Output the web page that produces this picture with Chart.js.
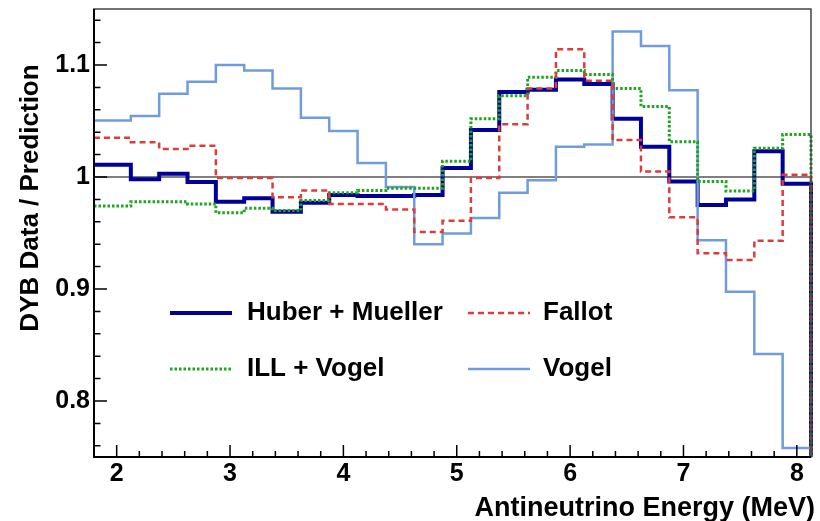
<!DOCTYPE html>
<html>
<head>
<meta charset="utf-8">
<title>DYB Data / Prediction</title>
<script src="https://cdn.jsdelivr.net/npm/chart.js@4.4.1/dist/chart.umd.min.js"></script>
<style>
  html, body { margin: 0; padding: 0; background: #fff; }
  #ratioChart { display: block; }
</style>
</head>
<body>
<canvas id="ratioChart" width="820" height="521"></canvas>
<script>
// Bin edges in antineutrino energy (MeV)
const binEdges = [1.8, 2.125, 2.375, 2.625, 2.875, 3.125, 3.375, 3.625, 3.875, 4.125,
  4.375, 4.625, 4.875, 5.125, 5.375, 5.625, 5.875, 6.125, 6.375, 6.625,
  6.875, 7.125, 7.375, 7.625, 7.875, 8.125];

// Data / prediction ratio per bin for each flux model
const huberMueller = [1.011, 0.998, 1.003, 0.9955, 0.978, 0.981, 0.969, 0.977, 0.984, 0.983,
  0.983, 0.984, 1.008, 1.042, 1.076, 1.078, 1.087, 1.083, 1.052, 1.027,
  0.996, 0.975, 0.980, 1.023, 0.994];
const fallot = [1.035, 1.031, 1.025, 1.028, 0.999, 0.999, 0.982, 0.988, 0.976, 0.976,
  0.971, 0.951, 0.961, 0.999, 1.047, 1.079, 1.114, 1.086, 1.033, 1.005,
  0.964, 0.932, 0.926, 0.943, 1.002];
const illVogel = [0.974, 0.978, 0.978, 0.976, 0.968, 0.972, 0.970, 0.979, 0.986, 0.988,
  0.990, 0.990, 1.014, 1.052, 1.0725, 1.089, 1.095, 1.0915, 1.079, 1.063,
  1.0315, 0.996, 0.9875, 1.0256, 1.038];
const vogel = [1.0505, 1.0544, 1.0743, 1.085, 1.100, 1.095, 1.079, 1.053, 1.041, 1.0125,
  0.991, 0.940, 0.9495, 0.9635, 0.986, 0.997, 1.027, 1.029, 1.130, 1.117,
  1.0775, 0.9436, 0.8975, 0.842, 0.758];

const seriesNames = ["Huber + Mueller", "Fallot", "ILL + Vogel", "Vogel"];
const xTickValues = [2, 3, 4, 5, 6, 7, 8];
const yTickValues = [0.8, 0.9, 1, 1.1];

const FONT = '"Liberation Sans", Arial, Helvetica, sans-serif';

// bin contents -> points for a stepped line, closing down to zero at the last edge
function histPoints(values) {
  const pts = values.map((v, i) => ({ x: binEdges[i], y: v }));
  const last = binEdges[binEdges.length - 1];
  pts.push({ x: last, y: values[values.length - 1] });
  pts.push({ x: last, y: 0 });
  return pts;
}

const histStyle = {
  stepped: "before",
  pointRadius: 0,
  fill: false,
  tension: 0,
  clip: { left: 0, top: 0, right: 3, bottom: 0 },
};

const framePlugin = {
  id: "rootFrame",
  beforeDatasetsDraw(chart) {
    const { ctx, chartArea: a, scales } = chart;
    const y1 = scales.y.getPixelForValue(1);
    ctx.save();
    ctx.strokeStyle = "#555";
    ctx.lineWidth = 1.5;
    ctx.beginPath();
    ctx.moveTo(a.left, y1);
    ctx.lineTo(a.right, y1);
    ctx.stroke();
    ctx.restore();
  },
  afterDraw(chart) {
    const { ctx, chartArea: a, scales } = chart;
    const { x, y } = scales;
    ctx.save();

    // frame
    ctx.strokeStyle = "#444";
    ctx.lineWidth = 1.5;
    ctx.strokeRect(a.left, a.top, a.right - a.left, a.bottom - a.top);
    ctx.strokeStyle = "#000";
    ctx.lineWidth = 2;
    ctx.beginPath();
    ctx.moveTo(a.left, a.top);
    ctx.lineTo(a.left, a.bottom);
    ctx.lineTo(a.right, a.bottom);
    ctx.stroke();

    // ticks pointing into the frame
    ctx.lineWidth = 1.5;
    ctx.beginPath();
    for (let k = 38; k <= 57; k++) {
      const v = k / 50;
      const py = y.getPixelForValue(v);
      const major = yTickValues.some((t) => Math.abs(t - v) < 1e-6);
      ctx.moveTo(a.left, py);
      ctx.lineTo(a.left + (major ? 13 : 6.5), py);
    }
    for (let k = 9; k <= 40; k++) {
      const v = k / 5;
      const px = x.getPixelForValue(v);
      const major = xTickValues.some((t) => Math.abs(t - v) < 1e-6);
      ctx.moveTo(px, a.bottom);
      ctx.lineTo(px, a.bottom - (major ? 12 : 6));
    }
    ctx.stroke();

    // axis titles
    ctx.fillStyle = "#000";
    ctx.textBaseline = "middle";
    ctx.textAlign = "right";
    ctx.font = `bold 27px ${FONT}`;
    ctx.fillText("Antineutrino Energy (MeV)", 815, 509);
    ctx.font = `bold 26px ${FONT}`;
    ctx.save();
    ctx.translate(31, 198);
    ctx.rotate(-Math.PI / 2);
    ctx.textAlign = "center";
    ctx.fillText("DYB Data / Prediction", 0, 0);
    ctx.restore();

    // legend, two columns
    const rows = [313, 369];
    const lineX = [170, 468];
    const textX = [247, 543];
    ctx.font = `bold 26px ${FONT}`;
    ctx.textAlign = "left";
    chart.data.datasets.forEach((ds, i) => {
      const col = i % 2;
      const row = Math.floor(i / 2);
      const ly = rows[row];
      ctx.save();
      ctx.strokeStyle = ds.borderColor;
      ctx.lineWidth = ds.borderWidth;
      ctx.setLineDash(ds.borderDash || []);
      ctx.beginPath();
      ctx.moveTo(lineX[col], ly);
      ctx.lineTo(lineX[col] + 62, ly);
      ctx.stroke();
      ctx.restore();
      ctx.fillText(ds.label, textX[col], ly);
    });

    ctx.restore();
  },
};

const ctx = document.getElementById("ratioChart").getContext("2d");

new Chart(ctx, {
  type: "line",
  data: {
    datasets: [
      {
        ...histStyle,
        label: seriesNames[0],
        data: histPoints(huberMueller),
        borderColor: "#000099",
        borderWidth: 4,
        order: 4,
      },
      {
        ...histStyle,
        label: seriesNames[1],
        data: histPoints(fallot),
        borderColor: "#dc3c3c",
        borderWidth: 2.5,
        borderDash: [6, 4],
        order: 1,
      },
      {
        ...histStyle,
        label: seriesNames[2],
        data: histPoints(illVogel),
        borderColor: "#1da51d",
        borderWidth: 3,
        borderDash: [2.5, 2],
        order: 2,
      },
      {
        ...histStyle,
        label: seriesNames[3],
        data: histPoints(vogel),
        borderColor: "#709cdb",
        borderWidth: 2.5,
        order: 3,
      },
    ],
  },
  options: {
    responsive: false,
    animation: false,
    events: [],
    layout: {
      padding: { left: 0, top: 9, right: 9, bottom: 0 },
    },
    plugins: {
      legend: { display: false },
      tooltip: { enabled: false },
    },
    scales: {
      x: {
        type: "linear",
        min: binEdges[0],
        max: binEdges[binEdges.length - 1],
        afterFit: (scale) => {
          scale.height = 64;
          scale.paddingLeft = 0;
          scale.paddingRight = 0;
        },
        afterBuildTicks: (scale) => {
          scale.ticks = xTickValues.map((v) => ({ value: v }));
        },
        grid: { display: false, drawTicks: false },
        border: { display: false },
        ticks: {
          padding: 2,
          color: "#000",
          font: { family: FONT, size: 25, weight: "bold" },
          maxRotation: 0,
          autoSkip: false,
        },
      },
      y: {
        min: 0.75,
        max: 1.15,
        afterFit: (scale) => {
          scale.width = 94;
          scale.paddingTop = 0;
          scale.paddingBottom = 0;
        },
        afterBuildTicks: (scale) => {
          scale.ticks = yTickValues.map((v) => ({ value: v }));
        },
        grid: { display: false, drawTicks: false },
        border: { display: false },
        ticks: {
          padding: 4,
          color: "#000",
          font: { family: FONT, size: 25, weight: "bold" },
          callback: (value) => String(value),
        },
      },
    },
  },
  plugins: [framePlugin],
});
</script>
</body>
</html>
